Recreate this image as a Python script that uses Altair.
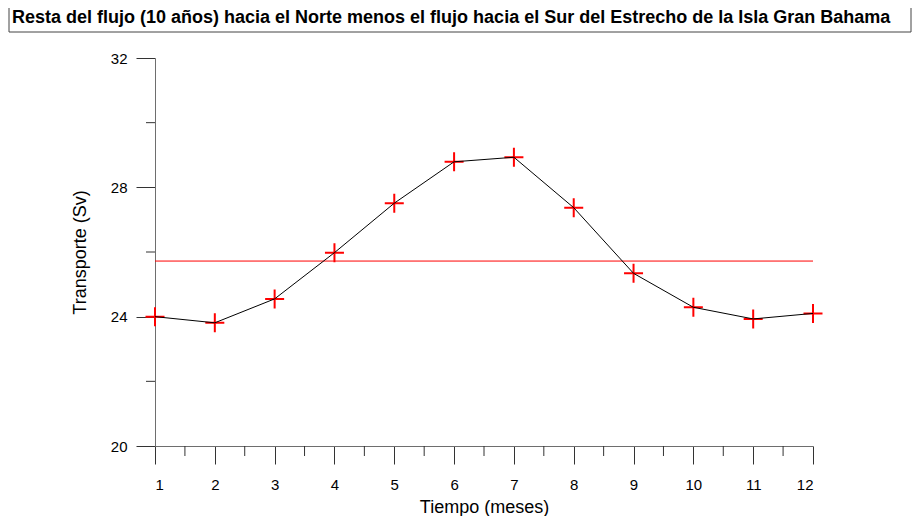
import altair as alt
import pandas as pd

# ---- data ----
months = [1, 2, 3, 4, 5, 6, 7, 8, 9, 10, 11, 12]
transport = [24.00, 23.81, 24.55, 25.98, 27.51, 28.79, 28.93, 27.37, 25.34, 24.29, 23.93, 24.10]
mean_value = 25.72
x_major_ticks = [1, 2, 3, 4, 5, 6, 7, 8, 9, 10, 11, 12]
x_minor_ticks = [1.5, 2.5, 3.5, 4.5, 5.5, 6.5, 7.5, 8.5, 9.5, 10.5, 11.5]
y_major_ticks = [20, 24, 28, 32]
y_minor_ticks = [22, 26, 30]
title_text = "Resta del flujo (10 años) hacia el Norte menos el flujo hacia el Sur del Estrecho de la Isla Gran Bahama"
x_title = "Tiempo (meses)"
y_title = "Transporte (Sv)"

W, H = 658, 388
FONT = "Liberation Sans"

df = pd.DataFrame({"mes": months, "transporte": transport})

x_scale = alt.Scale(domain=[1, 12], nice=False, zero=False)
y_scale = alt.Scale(domain=[20, 32], nice=False, zero=False)

x_axis = alt.Axis(
    values=x_major_ticks, format="d", title=x_title, tickSize=18, labelPadding=13,
    labelFontSize=15, titleFontSize=18, labelFont=FONT, titleFont=FONT,
    titleFontWeight="normal", labelColor="black", titleColor="black",
    domainColor="#6e6e6e", tickColor="#333333", grid=False,
    titleY=61, titleBaseline="middle",
)
y_axis = alt.Axis(
    values=y_major_ticks, format="d", title=y_title, tickSize=19, labelPadding=9,
    labelFontSize=15, titleFontSize=18, labelFont=FONT, titleFont=FONT,
    titleFontWeight="normal", labelColor="black", titleColor="black",
    domainColor="#6e6e6e", tickColor="#333333", grid=False,
    titleX=-75, titleY=194, titleBaseline="middle", titleAngle=-90,
)

base = alt.Chart(df)

crosses = base.mark_point(
    shape="M-1,0L1,0M0,-1L0,1", size=361, strokeWidth=2, color="#ff0000",
    filled=False, opacity=1,
).encode(
    x=alt.X("mes:Q", scale=x_scale, axis=x_axis),
    y=alt.Y("transporte:Q", scale=y_scale, axis=y_axis),
)

line = base.mark_line(color="black", strokeWidth=1).encode(
    x=alt.X("mes:Q", scale=x_scale),
    y=alt.Y("transporte:Q", scale=y_scale),
)

mean_df = pd.DataFrame({"x0": [months[0]], "x1": [months[-1]], "m": [mean_value]})
mean_rule = alt.Chart(mean_df).mark_rule(color="#ff0000", strokeWidth=1).encode(
    x=alt.X("x0:Q", scale=x_scale), x2="x1:Q",
    y=alt.Y("m:Q", scale=y_scale),
)

xminor = alt.Chart(pd.DataFrame({"v": x_minor_ticks})).mark_rule(
    color="#333333", strokeWidth=1
).encode(
    x=alt.X("v:Q", scale=x_scale), y=alt.value(H), y2=alt.value(H + 10),
)
yminor = alt.Chart(pd.DataFrame({"v": y_minor_ticks})).mark_rule(
    color="#333333", strokeWidth=1
).encode(
    y=alt.Y("v:Q", scale=y_scale), x=alt.value(-9), x2=alt.value(0),
)

title_df = pd.DataFrame({"t": [title_text]})
title_box = alt.Chart(title_df).mark_rect(
    fill="white", stroke="#444444", strokeWidth=1
).encode(
    x=alt.value(-146), x2=alt.value(756), y=alt.value(-54), y2=alt.value(-26),
)
title_mark = alt.Chart(title_df).mark_text(
    align="left", baseline="middle", font=FONT,
    fontSize=18, fontWeight="bold", color="black",
).encode(
    x=alt.value(-143), y=alt.value(-40), text="t:N",
)

chart = alt.layer(
    title_box, title_mark, mean_rule, xminor, yminor, crosses, line
).properties(
    width=W, height=H,
    autosize=alt.AutoSizeParams(type="none"),
    padding={"left": 147, "top": 50, "right": 99, "bottom": 70},
    background="white",
).configure_view(stroke=None)

chart.save("out.html", embed_options={"renderer": "svg", "actions": False})
